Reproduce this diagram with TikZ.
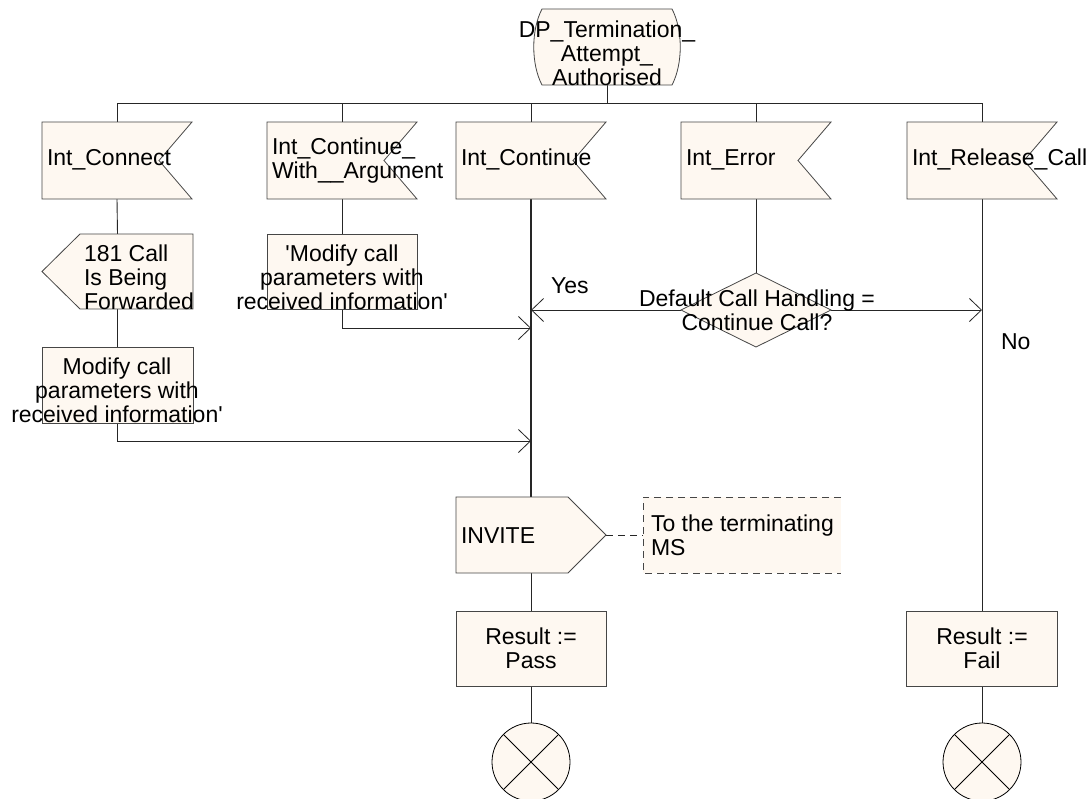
\documentclass[tikz,border=0pt]{standalone}
\usepackage{fontspec}
\setmainfont{Liberation Sans}
\usetikzlibrary{arrows.meta,calc}
\definecolor{cream}{RGB}{254,248,241}
\definecolor{ln}{RGB}{70,70,70}
\newcommand\sdlinput[1]{\draw[shp] (#1.north west) -- (#1.north east) -- ([xshift=-33pt]#1.east) -- (#1.south east) -- (#1.south west) -- cycle;}
\newcommand\sdloutL[1]{\draw[shp] ([xshift=38pt]#1.north west) -- (#1.north east) -- (#1.south east) -- ([xshift=38pt]#1.south west) -- (#1.west) -- cycle;}
\newcommand\sdloutR[1]{\draw[shp] (#1.north west) -- ([xshift=-38pt]#1.north east) -- (#1.east) -- ([xshift=-38pt]#1.south east) -- (#1.south west) -- cycle;}
\newcommand\sdltask[1]{\draw[shp] (#1.north west) rectangle (#1.south east);}
\begin{document}
\begin{tikzpicture}[x=1pt,y=-1pt,
  txt/.style={font=\fontsize{23}{24}\selectfont, inner sep=0pt, outer sep=0pt},
  slot/.style={minimum width=150pt, minimum height=#1, inner sep=0pt, outer sep=0pt},
  slot/.default=76pt,
  shp/.style={draw=ln, fill=cream, line width=0.8pt},
  wire/.style={draw=black!85, line width=0.9pt},
  arr/.style={wire, -{Straight Barb[length=12pt,width=23pt,line width=0.8pt]}},
  stopsym/.style={circle, minimum size=78pt, inner sep=0pt, outer sep=0pt, draw=black, fill=cream, line width=0.8pt}]
\fill[white] (0,0) rectangle (1092,798);
\useasboundingbox (0,0) rectangle (1092,798);

% ---- placeholders (named) ----
\node[slot=76pt, minimum width=145pt] (state) at (607,47) {};
\node[slot=77pt] (conn) at (117,160.5) {};
\node[slot=77pt] (cwa)  at (342,160.5) {};
\node[slot=77pt] (cont) at (531,160.5) {};
\node[slot=77pt] (err)  at (756,160.5) {};
\node[slot=77pt] (rel)  at (982,160.5) {};
\node[slot=75pt, minimum width=151pt] (fwd) at (117.5,271.5) {};
\node[slot=75pt] (mod1) at (342,271.5) {};
\node[slot=76pt, minimum width=151pt] (mod2) at (117.5,385) {};
\node[minimum width=150pt, minimum height=74pt, inner sep=0pt, outer sep=0pt] (dec) at (756,310) {};
\node[slot=76pt] (inv) at (531,535) {};
\node[minimum width=198pt, minimum height=76pt, inner sep=0pt, outer sep=0pt] (cmt) at (742,535) {};
\node[slot=75pt] (pass) at (531,648.5) {};
\node[slot=75pt, minimum width=151pt] (fail) at (982,648.5) {};
\coordinate (busl) at (117,103);
\coordinate (busr) at (982,103);
\coordinate (j1) at (531,328);
\coordinate (j2) at (531,441);
\coordinate (yes) at (531,310);
\coordinate (no) at (982,310);

% ---- connectors ----
\draw[wire] (state.south) -- (state.south |- busl);
\draw[wire] (busl) -- (busr);
\foreach \n in {conn,cwa,cont,err,rel} {\draw[wire] (\n.north |- busl) -- (\n.north);}
\draw[wire] (conn.south) -- (fwd.north);
\draw[wire] (fwd.south) -- (mod2.north);
\draw[arr] (mod2.south) |- (j2);
\draw[wire] (cwa.south) -- (mod1.north);
\draw[arr] (mod1.south) |- (j1);
\draw[wire, line width=1.2pt] (cont.south) -- (inv.north);
\draw[wire] (err.south) -- (dec.north);
\draw[arr] (dec.west) -- (yes);
\draw[arr] (dec.east) -- (no);
\draw[wire] (rel.south) -- (fail.north);
\draw[wire] (inv.south) -- (pass.north);
\draw[wire] (fail.south) -- (982,723);
\draw[wire] (pass.south) -- (531,723);
\draw[wire, dash pattern=on 7pt off 5pt] (inv.east) -- (cmt.west);

% ---- shapes ----
\draw[shp] (542,9) -- (672,9) .. controls (683,30) and (683,64) .. (672,85) -- (542,85) .. controls (531,64) and (531,30) .. (542,9) -- cycle;
\sdlinput{conn}
\sdlinput{cwa}
\sdlinput{cont}
\sdlinput{err}
\sdlinput{rel}
\sdloutL{fwd}
\sdltask{mod1}
\sdltask{mod2}
\draw[shp] (dec.north) -- (dec.east) -- (dec.south) -- (dec.west) -- cycle;
\sdloutR{inv}
\fill[cream] (cmt.north west) rectangle (cmt.south east);
\draw[draw=ln, line width=0.8pt, dash pattern=on 7pt off 5pt] (cmt.north east) -- (cmt.north west) -- (cmt.south west) -- (cmt.south east);
\sdltask{pass}
\sdltask{fail}
\node[stopsym] (stop1) at (531,762) {};
\node[stopsym] (stop2) at (982,762) {};
\draw[line width=0.8pt] (stop1.north west) -- (stop1.south east) (stop1.north east) -- (stop1.south west);
\draw[line width=0.8pt] (stop2.north west) -- (stop2.south east) (stop2.north east) -- (stop2.south west);

% ---- texts ----
\node[txt, align=center] (state-t) at (607,53) {DP\_Termination\_\\Attempt\_\\Authorised};
\node[txt, anchor=base west] (conn-t) at (47,165) {Int\_Connect};
\node[txt, align=left, anchor=west] (cwa-t) at (272,161) {Int\_Continue\_\\With\_\_Argument};
\node[txt, anchor=base west] (cont-t) at (461,165) {Int\_Continue};
\node[txt, anchor=base west] (err-t) at (686,165) {Int\_Error};
\node[txt, anchor=base west] (rel-t) at (912,165) {Int\_Release\_Call};
\node[txt, align=left, anchor=west] (fwd-t) at (84,277) {181 Call\\Is Being\\Forwarded};
\node[txt, align=center] (mod1-t) at (342,277) {\textquotesingle Modify call\\parameters with\\received information\textquotesingle};
\node[txt, align=center] (mod2-t) at (117,390) {Modify call\\parameters with\\received information\textquotesingle};
\node[txt, align=center] (dec-t) at (757,310) {Default Call Handling =\\Continue Call?};
\node[txt, anchor=base west] (yes-t) at (551,293) {Yes};
\node[txt, anchor=base west] (no-t) at (1001,349) {No};
\node[txt, anchor=base west] (inv-t) at (461,543) {INVITE};
\node[txt, align=left, anchor=west] (cmt-t) at (651,535) {To the terminating\\MS};
\node[txt, align=center] (pass-t) at (531,648) {Result :=\\Pass};
\node[txt, align=center] (fail-t) at (982,648) {Result :=\\Fail};
\end{tikzpicture}
\end{document}
